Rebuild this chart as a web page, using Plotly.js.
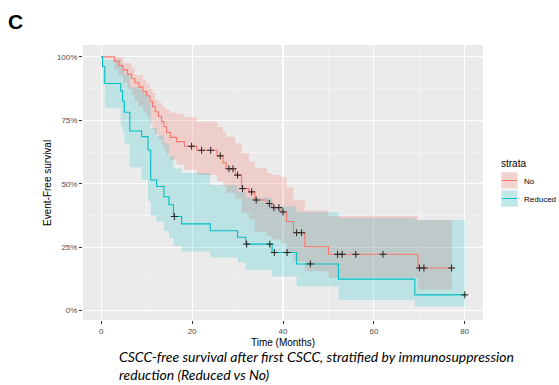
<!DOCTYPE html>
<html>
<head>
<meta charset="utf-8">
<script src="https://cdn.plot.ly/plotly-3.0.1.min.js"></script>
<style>
  html, body { margin: 0; padding: 0; background: #ffffff; }
  #chart { width: 559px; height: 385px; }
</style>
</head>
<body>
<div id="chart"></div>
<script>
// ---------- data ----------
const strataNames = ["No", "Reduced"];

// "No" stratum: event times (months), survival (%), CI upper / lower (%)
const noTime  = [0, 2.9, 3.9, 4.8, 5.8, 6.7, 7.4, 8.3, 9.2, 10.0, 10.7, 11.3, 11.9, 12.6, 13.3, 13.8, 14.4, 15.2, 16.6, 18.3, 21.0, 25.5, 26.8, 27.5, 29.5, 30.9, 32.5, 33.8, 36.5, 37.5, 39.6, 40.8, 42.3, 44.8, 50.0, 69.7];
const noSurv  = [100, 98.3, 96.6, 94.9, 93.2, 91.5, 89.8, 88.1, 86.4, 84.7, 82.5, 80.4, 78.4, 76.5, 74.5, 72.5, 70.2, 68.3, 66.6, 64.8, 63.2, 61.0, 58.3, 55.9, 53.4, 48.1, 46.8, 43.6, 42.2, 40.6, 38.9, 35.1, 30.7, 25.2, 22.2, 16.8];
const noUpper = [100, 100, 100, 97.5, 97.5, 95.5, 92.9, 92.9, 91.0, 89.0, 87.5, 85.7, 83.0, 82.0, 81.0, 80.0, 79.1, 78.0, 77.5, 76.2, 74.5, 72.5, 70.5, 68.5, 66.0, 62.0, 58.7, 56.1, 54.2, 53.5, 52.8, 48.5, 43.5, 39.5, 37.3, 35.7];
const noLower = [100, 95.0, 92.5, 90.0, 87.5, 85.0, 82.5, 80.5, 78.5, 76.5, 74.0, 71.5, 69.5, 67.5, 65.5, 63.5, 61.5, 59.5, 57.5, 55.5, 53.5, 51.0, 49.0, 46.5, 44.0, 38.5, 36.0, 31.0, 29.5, 28.0, 26.5, 23.0, 19.5, 15.5, 13.0, 8.2];
const noEnd = 77.1;
const noCensor = [19.9, 22.1, 24.1, 26.2, 28.1, 29.0, 30.0, 31.1, 33.1, 34.1, 37.0, 38.0, 39.1, 40.0, 43.0, 44.1, 52.0, 53.0, 56.0, 62.0, 70.0, 71.0, 77.1];

// "Reduced" stratum
const redTime  = [0, 0.3, 0.8, 4.3, 4.7, 5.1, 6.3, 8.9, 10.3, 10.9, 12.2, 13.8, 14.9, 15.9, 17.7, 24.0, 30.0, 31.8, 37.6, 43.0, 52.2, 69.0];
const redSurv  = [100, 96.2, 89.5, 86.5, 82.5, 78.2, 70.8, 68.6, 63.3, 51.5, 48.9, 44.9, 41.7, 37.1, 34.2, 31.5, 28.9, 26.2, 22.9, 18.4, 12.4, 6.2];
const redUpper = [100, 100, 99.0, 97.0, 95.0, 93.0, 88.0, 86.5, 82.0, 72.0, 69.0, 66.0, 61.0, 56.0, 54.2, 49.5, 46.9, 44.5, 41.0, 38.9, 36.5, 35.7];
const redLower = [100, 89.0, 80.0, 73.0, 70.6, 66.0, 56.5, 51.5, 43.0, 37.5, 35.0, 31.5, 28.5, 25.5, 23.3, 21.0, 19.0, 16.0, 13.4, 9.5, 4.2, 1.6];
const redEnd = 80.0;
const redCensor = [16.1, 32.0, 37.1, 38.1, 40.9, 46.0, 80.0];

const xTicks = [0, 20, 40, 60, 80];
const yTicks = [0, 25, 50, 75, 100];
const yTickText = ["0%", "25%", "50%", "75%", "100%"];

const colNo = "#F8766D", colRed = "#00BFC4";
const fillNo = "rgba(248,118,109,0.25)", fillRed = "rgba(0,191,196,0.2)";

// ---------- helpers ----------
function stepXY(t, v, end) {
  const xs = [], ys = [];
  for (let i = 0; i < t.length; i++) {
    const next = i + 1 < t.length ? t[i + 1] : end;
    xs.push(t[i], next); ys.push(v[i], v[i]);
  }
  return [xs, ys];
}
function band(t, up, lo, end, color) {
  const [xu, yu] = stepXY(t, up, end);
  const [xl, yl] = stepXY(t, lo, end);
  return {
    x: xu.concat(xl.slice().reverse()),
    y: yu.concat(yl.slice().reverse()),
    type: "scatter", mode: "lines", fill: "toself", fillcolor: color,
    line: { width: 0 }, hoverinfo: "skip", showlegend: false
  };
}
function curve(t, s, end, color) {
  return {
    x: t.concat([end]), y: s.concat([s[s.length - 1]]),
    type: "scatter", mode: "lines", line: { color: color, width: 1.1, shape: "hv" },
    showlegend: false
  };
}
function survAt(t, s, x) {
  let v = s[0];
  for (let i = 0; i < t.length; i++) if (t[i] <= x) v = s[i];
  return v;
}
function censor(tc, t, s) {
  return {
    x: tc, y: tc.map(x => survAt(t, s, x)),
    type: "scatter", mode: "markers",
    marker: { symbol: "cross-thin", size: 5, line: { color: "#222222", width: 1 } },
    showlegend: false
  };
}

const traces = [
  band(noTime, noUpper, noLower, noEnd, fillNo),
  band(redTime, redUpper, redLower, redEnd, fillRed),
  curve(noTime, noSurv, noEnd, colNo),
  curve(redTime, redSurv, redEnd, colRed),
  censor(noCensor, noTime, noSurv),
  censor(redCensor, redTime, redSurv)
];

// ---------- layout ----------
const L = 83, T = 45, W = 400, H = 275;
const px = p => (p - L) / W;
const py = p => (T + H - p) / H;
const font = "Liberation Sans, Arial, sans-serif";

const shapes = [];
const annotations = [];
// legend keys
[[172, 189, fillNo, colNo], [190, 207, fillRed, colRed]].forEach(k => {
  shapes.push({ type: "rect", xref: "paper", yref: "paper", x0: px(501), x1: px(518), y0: py(k[1]), y1: py(k[0]), fillcolor: "#F2F2F2", line: { width: 0 } });
  shapes.push({ type: "rect", xref: "paper", yref: "paper", x0: px(501.5), x1: px(517.5), y0: py(k[1] - 0.5), y1: py(k[0] + 0.5), fillcolor: k[2], line: { width: 0 } });
  const ym = py((k[0] + k[1]) / 2);
  shapes.push({ type: "line", xref: "paper", yref: "paper", x0: px(502), x1: px(517), y0: ym, y1: ym, line: { color: k[3], width: 1 } });
});
annotations.push({ xref: "paper", yref: "paper", x: px(499), y: py(163), text: "strata", showarrow: false, xanchor: "left", yanchor: "middle", font: { family: font, size: 10, color: "#000000" } });
annotations.push({ xref: "paper", yref: "paper", x: px(522), y: py(181), text: strataNames[0], showarrow: false, xanchor: "left", yanchor: "middle", font: { family: font, size: 8, color: "#000000" } });
annotations.push({ xref: "paper", yref: "paper", x: px(522), y: py(199), text: strataNames[1], showarrow: false, xanchor: "left", yanchor: "middle", font: { family: font, size: 8, color: "#000000" } });
// panel label and caption
annotations.push({ xref: "paper", yref: "paper", x: px(6), y: py(21), text: "<b>C</b>", showarrow: false, xanchor: "left", yanchor: "middle", font: { family: font, size: 21, color: "#000000" } });
annotations.push({ xref: "paper", yref: "paper", x: px(117), y: py(384.5), text: "<i>CSCC-free survival after first CSCC, stratified by immunosuppression<br>reduction (Reduced vs No)</i>", showarrow: false, xanchor: "left", yanchor: "bottom", align: "left", font: { family: "Lato, sans-serif", size: 14, color: "#000000" } });
// y axis title
annotations.push({ xref: "paper", yref: "paper", x: px(47), y: py(183), text: "Event-Free survival", textangle: -90, showarrow: false, xanchor: "center", yanchor: "middle", font: { family: font, size: 10, color: "#000000" } });

const layout = {
  width: 559, height: 385,
  margin: { l: L, r: 559 - L - W, t: T, b: 385 - T - H },
  paper_bgcolor: "#ffffff", plot_bgcolor: "#EBEBEB",
  showlegend: false,
  xaxis: {
    range: [-4, 84], tickvals: xTicks, ticks: "outside", ticklen: 3, tickwidth: 1, tickcolor: "#333333",
    tickfont: { family: font, size: 8, color: "#4D4D4D" },
    showgrid: true, gridcolor: "#ffffff", gridwidth: 1.1, zeroline: false, showline: false,
    minor: { tickvals: [10, 30, 50, 70], showgrid: true, gridcolor: "#F7F7F7", gridwidth: 0.6, ticks: "" },
    title: { text: "Time (Months)", font: { family: font, size: 10, color: "#000000" }, standoff: 4 }
  },
  yaxis: {
    range: [-3.7, 104.7], tickvals: yTicks, ticktext: yTickText, ticks: "outside", ticklen: 3, tickwidth: 1, tickcolor: "#333333",
    tickfont: { family: font, size: 8, color: "#4D4D4D" },
    showgrid: true, gridcolor: "#ffffff", gridwidth: 1.1, zeroline: false, showline: false,
    minor: { tickvals: [12.5, 37.5, 62.5, 87.5], showgrid: true, gridcolor: "#F7F7F7", gridwidth: 0.6, ticks: "" }
  },
  shapes: shapes,
  annotations: annotations
};

Plotly.newPlot("chart", traces, layout, { staticPlot: true, displayModeBar: false });
</script>
</body>
</html>
